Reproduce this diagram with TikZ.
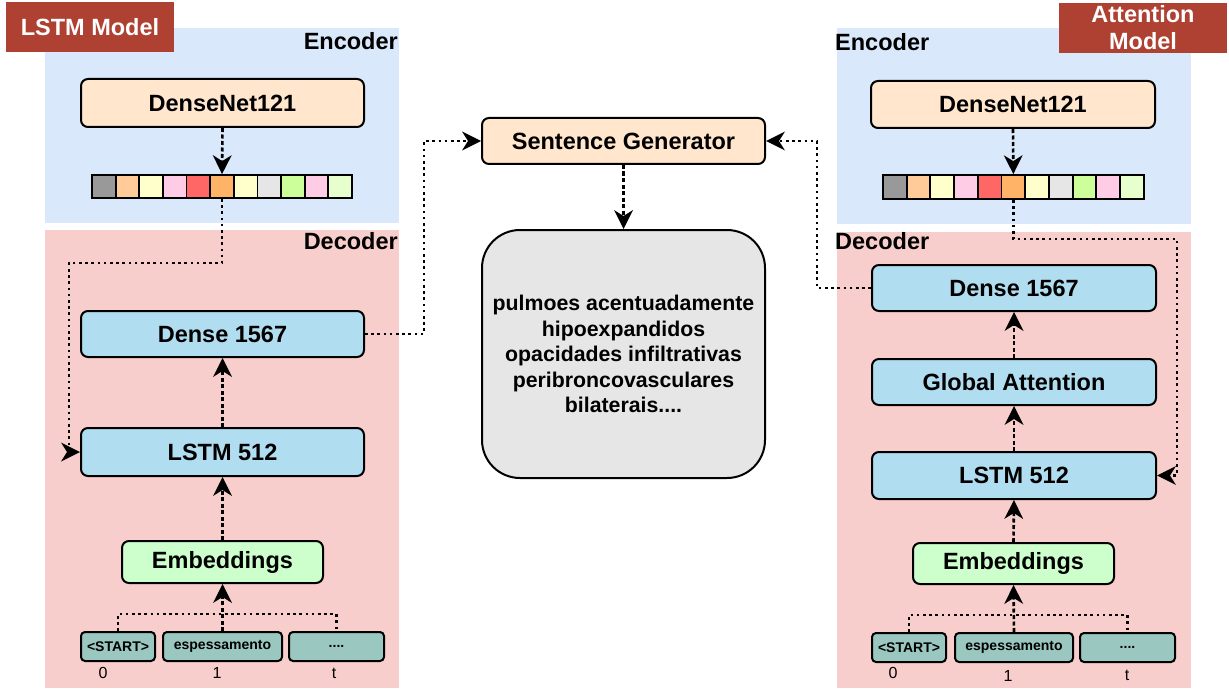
\documentclass[tikz,border=0pt]{standalone}
\usepackage{fontspec}
\setmainfont{Liberation Sans}
\usetikzlibrary{arrows.meta,calc}
\definecolor{encblue}{HTML}{DAE8FC}
\definecolor{decred}{HTML}{F8CECC}
\definecolor{peach}{HTML}{FFE6CC}
\definecolor{lblue}{HTML}{B1DDF0}
\definecolor{lgreen}{HTML}{CCFFCC}
\definecolor{teal}{HTML}{9AC7BF}
\definecolor{lgray}{HTML}{E6E6E6}
\definecolor{titlered}{HTML}{AE4132}
\definecolor{cA}{HTML}{999999}
\definecolor{cB}{HTML}{FFCC99}
\definecolor{cC}{HTML}{FFFFCC}
\definecolor{cD}{HTML}{FFCCE6}
\definecolor{cE}{HTML}{FF6666}
\definecolor{cF}{HTML}{FFB366}
\definecolor{cG}{HTML}{FFFFCC}
\definecolor{cH}{HTML}{E6E6E6}
\definecolor{cI}{HTML}{CCFF99}
\definecolor{cJ}{HTML}{FFCCE6}
\definecolor{cK}{HTML}{E6FFCC}
\newcommand\myfs[2]{\fontsize{#1}{#2}\selectfont}
\begin{document}
\begin{tikzpicture}[x=1pt,y=-1pt,
  box/.style={draw=black, line width=2pt, rounded corners=7pt, inner sep=0pt,
    font=\bfseries\myfs{23.5}{27}},
  tok/.style={draw=black, line width=2pt, rounded corners=4pt, inner sep=0pt,
    fill=teal, minimum height=29pt, font=\bfseries\myfs{14}{16}},
  cell/.style={draw=black, line width=1.8pt, inner sep=0pt, minimum width=23.6pt},
  lbl/.style={font=\bfseries\myfs{23.5}{27}, inner sep=0pt},
  idx/.style={font=\myfs{16}{18}, inner sep=0pt},
  route/.style={line width=2.6pt, dash pattern=on 2.6pt off 3.6pt},
  flow/.style={line width=2.6pt, dash pattern=on 4pt off 2.5pt},
  arr/.style={-{Stealth[length=19pt,width=19pt,inset=6pt,line width=0pt,fill=black]}},
  titlebox/.style={fill=titlered, text=white, inner sep=0pt, font=\bfseries\myfs{23.5}{27}, align=center}
]
\useasboundingbox (0,0) rectangle (1229,690);

% ---------- backgrounds ----------
\fill[encblue] (45,28) rectangle (399,223);
\fill[decred] (45,230) rectangle (399,688);
\fill[encblue] (837,28) rectangle (1191,224);
\fill[decred] (837,232) rectangle (1191,688);

\node[titlebox, minimum width=168pt, minimum height=50pt] (ttl) at (90,27) {LSTM Model};
\node[titlebox, minimum width=168pt, minimum height=50pt] (ttr) at (1143,28) {Attention\\[0pt]Model};

\node[lbl, anchor=east] (encl) at (398,41) {Encoder};
\node[lbl, anchor=east] (decl) at (398,241) {Decoder};
\node[lbl, anchor=west] (encr) at (835,42) {Encoder};
\node[lbl, anchor=west] (decr) at (835,241) {Decoder};

% ---------- left model ----------
\node[box, fill=peach, minimum width=283pt, minimum height=48pt] (ldn) at (222.5,103) {DenseNet121};
\foreach \c [count=\i] in {cA,cB,cC,cD,cE,cF,cG,cH,cI,cJ,cK}
  \node[cell, fill=\c, minimum height=23pt] (lc\i) at ({92+(\i-0.5)*23.64},186.5) {};
\node[box, fill=lblue, minimum width=283pt, minimum height=46pt] (lden) at (222.5,334) {Dense 1567};
\node[box, fill=lblue, minimum width=283pt, minimum height=48pt] (llstm) at (222.5,452) {LSTM 512};
\node[box, fill=lgreen, minimum width=201pt, minimum height=42pt] (lemb) at (222.5,562) {Embeddings};
\node[tok, minimum width=74pt] (lt0) at (118,646.5) {<START>};
\node[tok, minimum width=119pt] (lt1) at (222.5,646.5) {espessamento};
\node[tok, minimum width=95pt] (lt2) at (336.5,646.5) {....};
\node[idx] (li0) at (103,673) {0};
\node[idx] (li1) at (217,673) {1};
\node[idx] (li2) at (334,673) {t};

% ---------- middle ----------
\node[box, fill=peach, minimum width=283pt, minimum height=46pt] (sg) at (623.5,141) {Sentence Generator};
\node[box, fill=lgray, rounded corners=38pt, minimum width=283pt, minimum height=248pt,
      align=center, font=\bfseries\myfs{21.3}{25.5}] (txt) at (623.5,354)
  {pulmoes acentuadamente\\hipoexpandidos\\opacidades infiltrativas\\peribroncovasculares\\bilaterais....};

% ---------- right model ----------
\node[box, fill=peach, minimum width=284pt, minimum height=47pt] (rdn) at (1013,104.5) {DenseNet121};
\foreach \c [count=\i] in {cA,cB,cC,cD,cE,cF,cG,cH,cI,cJ,cK}
  \node[cell, fill=\c, minimum height=24pt] (rc\i) at ({883+(\i-0.5)*23.7},187) {};
\node[box, fill=lblue, minimum width=284pt, minimum height=46pt] (rden) at (1014,288) {Dense 1567};
\node[box, fill=lblue, minimum width=284pt, minimum height=46pt] (rga) at (1014,382) {Global Attention};
\node[box, fill=lblue, minimum width=284pt, minimum height=47pt] (rlstm) at (1014,475.5) {LSTM 512};
\node[box, fill=lgreen, minimum width=201pt, minimum height=41pt] (remb) at (1013.5,563.5) {Embeddings};
\node[tok, minimum width=74pt] (rt0) at (909,647.5) {<START>};
\node[tok, minimum width=118pt] (rt1) at (1014,647.5) {espessamento};
\node[tok, minimum width=95pt] (rt2) at (1127.5,647.5) {....};
\node[idx] (ri0) at (893,673) {0};
\node[idx] (ri1) at (1008,676) {1};
\node[idx] (ri2) at (1127,675) {t};

% ---------- connectors left ----------
\draw[flow, arr] (ldn.south) -- (lc6.north);
\coordinate (lbend) at (69,263);
\draw[route, arr] (lc6.south) |- (lbend) |- (llstm.west);
\draw[flow, arr] (llstm.north) -- (lden.south);
\draw[flow, arr] (lemb.north) -- (llstm.south);
\draw[flow, arr] (lt1.north) -- (lemb.south);
\draw[route] (lt0.north) -- ++(0,-17) -| (lt2.north);
\draw[route, arr] (lden.east) -- ++(59,0) |- (sg.west);

% ---------- connectors middle ----------
\draw[flow, arr] (sg.south) -- (txt.north);

% ---------- connectors right ----------
\draw[flow, arr] (rdn.south) -- (rc6.north);
\coordinate (rbend) at (1177,239);
\draw[route, arr] (rc6.south) |- (rbend) |- (rlstm.east);
\draw[flow, arr] (rlstm.north) -- (rga.south);
\draw[flow, arr] (rga.north) -- (rden.south);
\draw[flow, arr] (remb.north) -- (rlstm.south);
\draw[flow, arr] (rt1.north) -- (remb.south);
\draw[route] (rt0.north) -- ++(0,-17) -| (rt2.north);
\draw[route, arr] (rden.west) -- ++(-54,0) |- (sg.east);
\end{tikzpicture}
\end{document}
